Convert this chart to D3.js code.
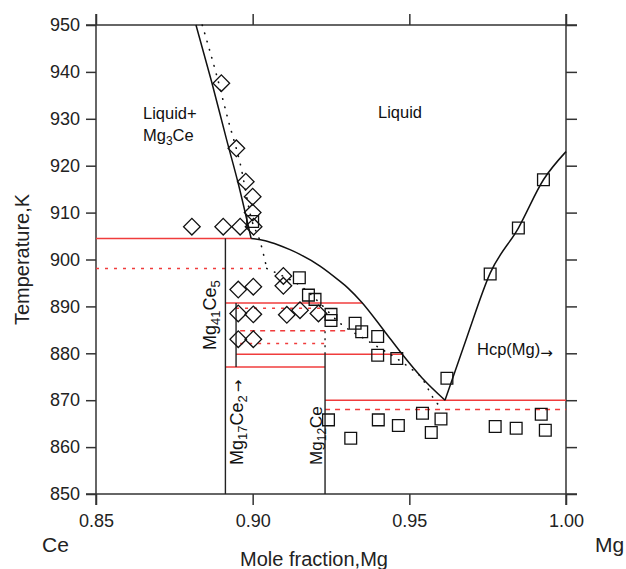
<!DOCTYPE html>
<html>
<head>
<meta charset="utf-8">
<script src="https://cdn.jsdelivr.net/npm/d3@7"></script>
<style>
  body { margin: 0; background: #fff; }
  svg { font-family: "Liberation Sans", Arial, Helvetica, sans-serif; }
</style>
</head>
<body>
<svg id="chart"></svg>
<script>
// ---- data ----
const xTicks = [0.85, 0.90, 0.95, 1.00];
const yTicks = [850, 860, 870, 880, 890, 900, 910, 920, 930, 940, 950];

// calculated liquidus curves (solid)  [mole fraction Mg, T(K)]
const liqMg3Ce = [[0.8819, 950], [0.8869, 937.9], [0.8917, 925.5], [0.8954, 916.2], [0.8995, 904.5]];
const liqMg12Ce = [[0.8995, 904.5], [0.9040, 904.0], [0.9082, 903.1], [0.9119, 902.1], [0.9151, 901.1],
  [0.9215, 898.6], [0.9274, 895.6], [0.9306, 893.8], [0.9348, 890.9], [0.9423, 884.5],
  [0.9476, 879.9], [0.9540, 874.8], [0.9614, 870.0]];
const liqHcp = [[0.9614, 870.0], [0.9684, 883.5], [0.9758, 897.1], [0.9848, 906.7], [0.9928, 917.0], [1.0, 923.0]];

// second assessment (dotted)
const liqDottedA = [[0.8839, 950], [0.8885, 939.3], [0.8922, 929.7], [0.8960, 920.5], [0.8997, 908.4],
  [0.9024, 903.8], [0.9045, 898.1]];
const liqDottedB = [[0.9045, 898.1], [0.9077, 897.1], [0.9162, 893.9], [0.9210, 891.0], [0.9279, 886.4],
  [0.9364, 882.8], [0.9497, 877.1], [0.9540, 874.7], [0.9577, 870.4], [0.9602, 868.3]];

// invariant isotherms  [x from, x to, T]
const isoSolid = [[0.85, 0.8995, 904.5], [0.8913, 0.9350, 890.7], [0.8947, 0.9476, 879.8],
  [0.8913, 0.9231, 877.1], [0.9231, 1.0, 870.0]];
const isoDotted = [[0.85, 0.9045, 898.1], [0.8947, 0.9231, 889.6], [0.8960, 0.9231, 882.1]];
const isoDashed = [[0.8960, 0.9300, 884.8], [0.9231, 1.0, 868.0]];

// compounds  [x, T from, T to]
const compSolid = [[0.8913, 850, 904.5], [0.8947, 877.1, 890.7], [0.9231, 850, 879.8]];
const compDotted = [[0.9231, 879.8, 885.0]];

// experimental points
const diamonds = [[0.8900, 937.6], [0.8948, 923.7], [0.8978, 916.6], [0.9000, 913.4], [0.9000, 910.0],
  [0.8806, 907.0], [0.8906, 907.0], [0.8960, 907.0], [0.9003, 907.0],
  [0.8954, 893.6], [0.9002, 894.2], [0.9098, 896.5], [0.9098, 894.4],
  [0.8954, 888.5], [0.9002, 888.3], [0.9109, 888.2], [0.9151, 889.2], [0.9210, 888.5],
  [0.8954, 883.0], [0.9002, 883.0]];
const squares = [[0.9000, 908.1],
  [0.9149, 896.1], [0.9178, 892.4], [0.9199, 891.5], [0.9250, 888.3], [0.9250, 887.0],
  [0.9327, 886.4], [0.9348, 884.6], [0.9399, 883.6], [0.9399, 879.6], [0.9460, 878.9], [0.9620, 874.7],
  [0.9758, 896.9], [0.9848, 906.7], [0.9928, 917.0],
  [0.9242, 865.8], [0.9313, 861.9], [0.9401, 865.8], [0.9465, 864.6], [0.9542, 867.2], [0.9570, 863.1],
  [0.9601, 866.0], [0.9774, 864.4], [0.9841, 864.0], [0.9921, 867.0], [0.9934, 863.6]];

// ---- layout ----
const width = 626, height = 569;
const margin = { top: 25, right: 60, bottom: 75, left: 96 };
const ext = 11; // axis lines run past the corners
const axisColor = "#333";
const red = "#f03c3c";

const svg = d3.select("#chart").attr("width", width).attr("height", height);

const x = d3.scaleLinear().domain([0.85, 1.0]).range([margin.left, width - margin.right]);
const y = d3.scaleLinear().domain([850, 950]).range([height - margin.bottom, margin.top]);

const x0 = x.range()[0], x1 = x.range()[1];
const y0 = y.range()[0], y1 = y.range()[1];

// axes
function styleAxis(g) {
  g.select(".domain").remove();
  g.selectAll(".tick line").attr("stroke", axisColor).attr("stroke-width", 1.5);
  g.selectAll(".tick text").attr("fill", "#222").style("font-size", "18px");
}

svg.append("g").attr("transform", `translate(${x0},0)`)
  .call(d3.axisLeft(y).tickValues(yTicks).tickSize(10).tickPadding(6).tickFormat(d3.format("d")))
  .call(styleAxis);
svg.append("g").attr("transform", `translate(${x1},0)`)
  .call(d3.axisRight(y).tickValues(yTicks).tickSize(ext).tickFormat(""))
  .call(styleAxis);
svg.append("g").attr("transform", `translate(0,${y1})`)
  .call(d3.axisTop(x).tickValues(xTicks).tickSize(ext).tickFormat(""))
  .call(styleAxis);
svg.append("g").attr("transform", `translate(0,${y0})`)
  .call(d3.axisBottom(x).tickValues(xTicks).tickSize(ext).tickPadding(9).tickFormat(d3.format(".2f")))
  .call(styleAxis);

const frame = [
  [x0, y1 - ext, x0, y0 + ext], [x1, y1 - ext, x1, y0 + ext],
  [x0 - 10, y1, x1 + ext, y1], [x0 - 10, y0, x1 + ext, y0]
];
svg.append("g").selectAll("line").data(frame).join("line")
  .attr("x1", d => d[0]).attr("y1", d => d[1]).attr("x2", d => d[2]).attr("y2", d => d[3])
  .attr("stroke", axisColor).attr("stroke-width", 1.5);

// red isotherms
const iso = svg.append("g").attr("stroke", red).attr("stroke-width", 1.5);
iso.selectAll(".solid").data(isoSolid).join("line").attr("class", "solid")
  .attr("x1", d => x(d[0])).attr("x2", d => x(d[1])).attr("y1", d => y(d[2])).attr("y2", d => y(d[2]));
iso.selectAll(".dotted").data(isoDotted).join("line").attr("class", "dotted")
  .attr("x1", d => x(d[0])).attr("x2", d => x(d[1])).attr("y1", d => y(d[2])).attr("y2", d => y(d[2]))
  .attr("stroke-dasharray", "3,6");
iso.selectAll(".dashed").data(isoDashed).join("line").attr("class", "dashed")
  .attr("x1", d => x(d[0])).attr("x2", d => x(d[1])).attr("y1", d => y(d[2])).attr("y2", d => y(d[2]))
  .attr("stroke-dasharray", "5,5");

// compound lines
const comp = svg.append("g").attr("stroke", "#222").attr("stroke-width", 1.4);
comp.selectAll(".solid").data(compSolid).join("line").attr("class", "solid")
  .attr("x1", d => x(d[0])).attr("x2", d => x(d[0])).attr("y1", d => y(d[1])).attr("y2", d => y(d[2]));
comp.selectAll(".dotted").data(compDotted).join("line").attr("class", "dotted")
  .attr("x1", d => x(d[0])).attr("x2", d => x(d[0])).attr("y1", d => y(d[1])).attr("y2", d => y(d[2]))
  .attr("stroke-dasharray", "2,5");

// liquidus curves
const line = d3.line().x(d => x(d[0])).y(d => y(d[1])).curve(d3.curveMonotoneX);
[liqMg3Ce, liqMg12Ce, liqHcp].forEach(c => {
  svg.append("path").attr("d", line(c)).attr("fill", "none")
    .attr("stroke", "#111").attr("stroke-width", 1.5);
});
[liqDottedA, liqDottedB].forEach(c => {
  svg.append("path").attr("d", line(c)).attr("fill", "none")
    .attr("stroke", "#111").attr("stroke-width", 1.6)
    .attr("stroke-linecap", "round").attr("stroke-dasharray", "0.5,8");
});

// experimental markers
const sym = d3.symbol().type(d3.symbolSquare).size(138);
svg.append("g").selectAll("path").data(diamonds).join("path")
  .attr("d", sym)
  .attr("transform", d => `translate(${x(d[0])},${y(d[1])}) rotate(45)`)
  .attr("fill", "none").attr("stroke", "#111").attr("stroke-width", 1.3);
svg.append("g").selectAll("path").data(squares).join("path")
  .attr("d", sym)
  .attr("transform", d => `translate(${x(d[0])},${y(d[1])})`)
  .attr("fill", "none").attr("stroke", "#111").attr("stroke-width", 1.3);

// labels: parts are [text, kind]; "sub" lowers, "arrow" lowered arrow, "arrow0" arrow on baseline
function label(parts, px, py, size, rotate) {
  const t = svg.append("text")
    .attr("transform", `translate(${px},${py})` + (rotate ? " rotate(-90)" : ""))
    .attr("fill", "#111").style("font-size", size + "px");
  let shift = 0;
  parts.forEach(([s, kind]) => {
    const target = kind === "sub" ? 4 : kind === "arrow" ? 3 : 0;
    const ts = t.append("tspan").text(s);
    if (target !== shift) { ts.attr("dy", target - shift); shift = target; }
    if (kind === "sub") ts.style("font-size", Math.round(size * 0.72) + "px");
    if (kind === "arrow" || kind === "arrow0") ts.style("font-family", "'DejaVu Sans'").style("font-size", "15px");
  });
  return t;
}

label([["Liquid+"]], x(0.865), y(930.0), 16.5);
label([["Mg"], ["3", "sub"], ["Ce"]], x(0.865), y(925.2), 16.5);
label([["Liquid"]], x(0.94), y(930.1), 16.5);
label([["Hcp(Mg)"], ["\u2192", "arrow"]], x(0.9716), y(879.6), 16.5);

label([["Mg"], ["41", "sub"], ["Ce"], ["5", "sub"]], x(0.8913) - 9.5, y(880.7), 18, true);
label([["Mg"], ["17", "sub"], ["Ce"], ["2", "sub"], ["\u2009\u2192", "arrow0"]], x(0.8947) + 7, y(856.2), 18, true);
label([["Mg"], ["12", "sub"], ["Ce"]], x(0.9231) - 3.5, y(856.2), 17, true);

// axis titles
svg.append("text").attr("transform", `translate(29,${(y0 + y1) / 2}) rotate(-90)`)
  .attr("text-anchor", "middle").attr("fill", "#222").style("font-size", "20px")
  .text("Temperature,K");
svg.append("text").attr("x", 314).attr("y", 566)
  .attr("text-anchor", "middle").attr("fill", "#222").style("font-size", "20px")
  .text("Mole fraction,Mg");
svg.append("text").attr("x", 42).attr("y", 552).attr("fill", "#222").style("font-size", "21px").text("Ce");
svg.append("text").attr("x", 595).attr("y", 552).attr("fill", "#222").style("font-size", "21px").text("Mg");
</script>
</body>
</html>
